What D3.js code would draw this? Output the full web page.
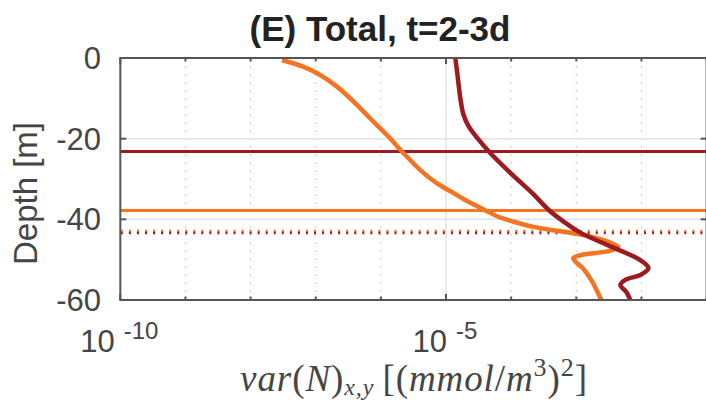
<!DOCTYPE html>
<html>
<head>
<meta charset="utf-8">
<script src="https://cdn.jsdelivr.net/npm/d3@7"></script>
<style>
  body { margin: 0; background: #fff; }
  svg { display: block; }
</style>
</head>
<body>
<div id="chart"></div>
<script>
// Profile data (depth in m, variance in (mmol/m^3)^2)
const redDepth = [0, -5, -10, -14, -17, -20, -23.2, -28.5, -33.5, -37.8, -40.5, -43.3,
  -46.9, -50.1, -52.1, -53.8, -55.0, -56.3, -58.0, -60];
const redVar = [1.39e-5, 1.52e-5, 1.66e-5, 1.85e-5, 2.24e-5, 3.08e-5, 4.54e-5, 9.7e-5,
  2.11e-4, 3.85e-4, 6.32e-4, 1.15e-3, 3.57e-3, 9.6e-3, 1.28e-2, 9.6e-3, 5.65e-3,
  4.74e-3, 5.86e-3, 6.75e-3];

const orangeDepth = [-0.5, -2.2, -4.2, -7.1, -10.8, -15.0, -19.1, -23.6, -27.8, -31.1,
  -33.5, -35.4, -37.3, -39.3, -40.6, -41.8, -42.7, -43.5, -44.6, -46.0, -46.9, -47.9,
  -48.9, -49.6, -50.5, -52.0, -55.5, -59.5, -60];
const orangeVar = [3.03e-8, 6.52e-8, 1.17e-7, 2.12e-7, 3.81e-7, 6.89e-7, 1.24e-6, 2.23e-6,
  4.03e-6, 7.28e-6, 1.31e-5, 2.07e-5, 3.53e-5, 6.22e-5, 1.1e-4, 2.11e-4, 4.44e-4,
  9.3e-4, 2.0e-3, 3.57e-3, 4.43e-3, 3.1e-3, 1.15e-3, 8.99e-4, 9.66e-4, 1.24e-3,
  1.76e-3, 2.34e-3, 2.42e-3];

// Horizontal reference depths
const redLineDepth = -23.2;
const orangeLineDepth = -37.8;
const dottedDepths = [-42.9, -43.4]; // orange, dark red

// Ticks
const yTicks = [0, -20, -40, -60];
const xTicks = [1e-10, 1e-5];
const xTickExp = ["-10", "-5"];
const xMinor = [1e-9, 1e-8, 1e-7, 1e-6, 1e-4, 1e-3, 1e-2];
const xDecades = [1e-10, 1e-9, 1e-8, 1e-7, 1e-6, 1e-5, 1e-4, 1e-3, 1e-2, 1e-1];

const red = "#9b1b1f";
const orange = "#f47422";
const axisColor = "#555";
const textColor = "#454545";

const width = 706;
const height = 402;
const plot = { left: 120.3, right: 706.6, top: 58, bottom: 300 };

const svg = d3
  .select("#chart")
  .append("svg")
  .attr("width", width)
  .attr("height", height);

const xScale = d3.scaleLog().domain([1e-10, 1e-1]).range([plot.left, plot.right]);
const yScale = d3.scaleLinear().domain([-60, 0]).range([plot.bottom, plot.top]);

// Grid lines
const grid = svg.append("g");
grid
  .selectAll(".minor")
  .data(xMinor)
  .enter()
  .append("line")
  .attr("x1", (d) => xScale(d))
  .attr("x2", (d) => xScale(d))
  .attr("y1", plot.top)
  .attr("y2", plot.bottom)
  .attr("stroke", "#c8c8c8")
  .attr("stroke-width", 1)
  .attr("stroke-dasharray", "2,6");

grid
  .selectAll(".xmajor")
  .data([1e-5])
  .enter()
  .append("line")
  .attr("x1", (d) => xScale(d))
  .attr("x2", (d) => xScale(d))
  .attr("y1", plot.top)
  .attr("y2", plot.bottom)
  .attr("stroke", "#e3e3e3")
  .attr("stroke-width", 1.5);

grid
  .selectAll(".ymajor")
  .data([-20, -40])
  .enter()
  .append("line")
  .attr("x1", plot.left)
  .attr("x2", plot.right)
  .attr("y1", (d) => yScale(d))
  .attr("y2", (d) => yScale(d))
  .attr("stroke", "#e3e3e3")
  .attr("stroke-width", 1.5);

// Reference lines
svg
  .append("line")
  .attr("x1", plot.left)
  .attr("x2", plot.right)
  .attr("y1", yScale(redLineDepth))
  .attr("y2", yScale(redLineDepth))
  .attr("stroke", red)
  .attr("stroke-width", 3);

svg
  .append("line")
  .attr("x1", plot.left)
  .attr("x2", plot.right)
  .attr("y1", yScale(orangeLineDepth))
  .attr("y2", yScale(orangeLineDepth))
  .attr("stroke", orange)
  .attr("stroke-width", 3);

svg
  .selectAll(".dotted")
  .data(dottedDepths)
  .enter()
  .append("line")
  .attr("x1", plot.left + 0.5)
  .attr("x2", plot.right)
  .attr("y1", (d) => yScale(d))
  .attr("y2", (d) => yScale(d))
  .attr("stroke", (d, i) => (i === 0 ? orange : red))
  .attr("stroke-width", 2.5)
  .attr("stroke-dasharray", "2,6.05");

// Profiles
const line = d3
  .line()
  .x((d) => xScale(d[1]))
  .y((d) => yScale(d[0]))
  .curve(d3.curveCatmullRom.alpha(0.5));

svg
  .append("path")
  .datum(d3.zip(orangeDepth, orangeVar))
  .attr("d", line)
  .attr("fill", "none")
  .attr("stroke", orange)
  .attr("stroke-width", 4.5);

svg
  .append("path")
  .datum(d3.zip(redDepth, redVar))
  .attr("d", line)
  .attr("fill", "none")
  .attr("stroke", red)
  .attr("stroke-width", 4.5);

// Axes box
const axes = svg.append("g").attr("stroke", axisColor).attr("stroke-width", 2);
axes.append("line").attr("x1", plot.left).attr("x2", plot.right + 2).attr("y1", plot.top).attr("y2", plot.top);
axes.append("line").attr("x1", plot.left).attr("x2", plot.right + 2).attr("y1", plot.bottom).attr("y2", plot.bottom);
axes.append("line").attr("x1", plot.left).attr("x2", plot.left).attr("y1", plot.top - 1).attr("y2", plot.bottom + 1);
axes.append("line").attr("x1", plot.right).attr("x2", plot.right).attr("y1", plot.top - 1).attr("y2", plot.bottom + 1);

// Ticks on all four sides
xDecades.forEach((d) => {
  const len = d === 1e-5 || d === 1e-10 ? 6 : 3.5;
  axes.append("line").attr("x1", xScale(d)).attr("x2", xScale(d))
    .attr("y1", plot.bottom).attr("y2", plot.bottom - len);
  axes.append("line").attr("x1", xScale(d)).attr("x2", xScale(d))
    .attr("y1", plot.top).attr("y2", plot.top + len);
});
yTicks.forEach((d) => {
  axes.append("line").attr("x1", plot.left).attr("x2", plot.left + 6)
    .attr("y1", yScale(d)).attr("y2", yScale(d));
  axes.append("line").attr("x1", plot.right).attr("x2", plot.right - 6)
    .attr("y1", yScale(d)).attr("y2", yScale(d));
});

// Y tick labels
svg
  .selectAll(".ylab")
  .data(yTicks)
  .enter()
  .append("text")
  .attr("x", 101)
  .attr("y", (d) => yScale(d) + 11)
  .attr("text-anchor", "end")
  .style("font-family", "Liberation Sans, Arial, sans-serif")
  .style("font-size", "31px")
  .attr("fill", textColor)
  .text((d) => d);

// X tick labels (10 with superscript exponent)
const xLab = svg
  .selectAll(".xlab")
  .data(xTicks)
  .enter()
  .append("text")
  .attr("x", (d) => xScale(d) - 1)
  .attr("y", 352)
  .attr("text-anchor", "middle")
  .style("font-family", "Liberation Sans, Arial, sans-serif")
  .attr("fill", textColor);
xLab.append("tspan").style("font-size", "31px").text("10");
xLab
  .append("tspan")
  .attr("dx", 9)
  .attr("dy", -13)
  .style("font-size", "24px")
  .text((d, i) => xTickExp[i]);

// Axis titles
svg
  .append("text")
  .attr("transform", "translate(36.5,193.5) rotate(-90)")
  .attr("text-anchor", "middle")
  .style("font-family", "Liberation Sans, Arial, sans-serif")
  .style("font-size", "33px")
  .attr("fill", textColor)
  .text("Depth [m]");

svg
  .append("text")
  .attr("x", 380)
  .attr("y", 40.5)
  .attr("text-anchor", "middle")
  .style("font-family", "Liberation Sans, Arial, sans-serif")
  .style("font-size", "35px")
  .style("font-weight", "bold")
  .attr("fill", "#222")
  .text("(E) Total, t=2-3d");

// x label in LaTeX-like math style
const xTitle = svg
  .append("text")
  .attr("x", 414)
  .attr("y", 390.5)
  .attr("text-anchor", "middle")
  .style("font-family", "Liberation Serif, Times New Roman, serif")
  .style("font-size", "37px")
  .style("letter-spacing", "0.9px")
  .attr("fill", textColor);
const parts = [
  { t: "var", i: true },
  { t: "(", i: false },
  { t: "N", i: true },
  { t: ")", i: false },
  { t: "x,y", i: true, sub: true },
  { t: "\u2009[(", i: false },
  { t: "mmol", i: true },
  { t: "/", i: false },
  { t: "m", i: true },
  { t: "3", i: false, sup: true },
  { t: ")", i: false },
  { t: "2", i: false, sup: true },
  { t: "]", i: false },
];
let shift = 0;
parts.forEach((p) => {
  const ts = xTitle.append("tspan").text(p.t).style("font-style", p.i ? "italic" : "normal");
  let target = 0;
  if (p.sub) target = 4;
  if (p.sup) target = -15;
  if (p.sub) ts.style("font-size", "24px");
  if (p.sup) ts.style("font-size", "26px");
  ts.attr("dy", target - shift);
  shift = target;
});
</script>
</body>
</html>
